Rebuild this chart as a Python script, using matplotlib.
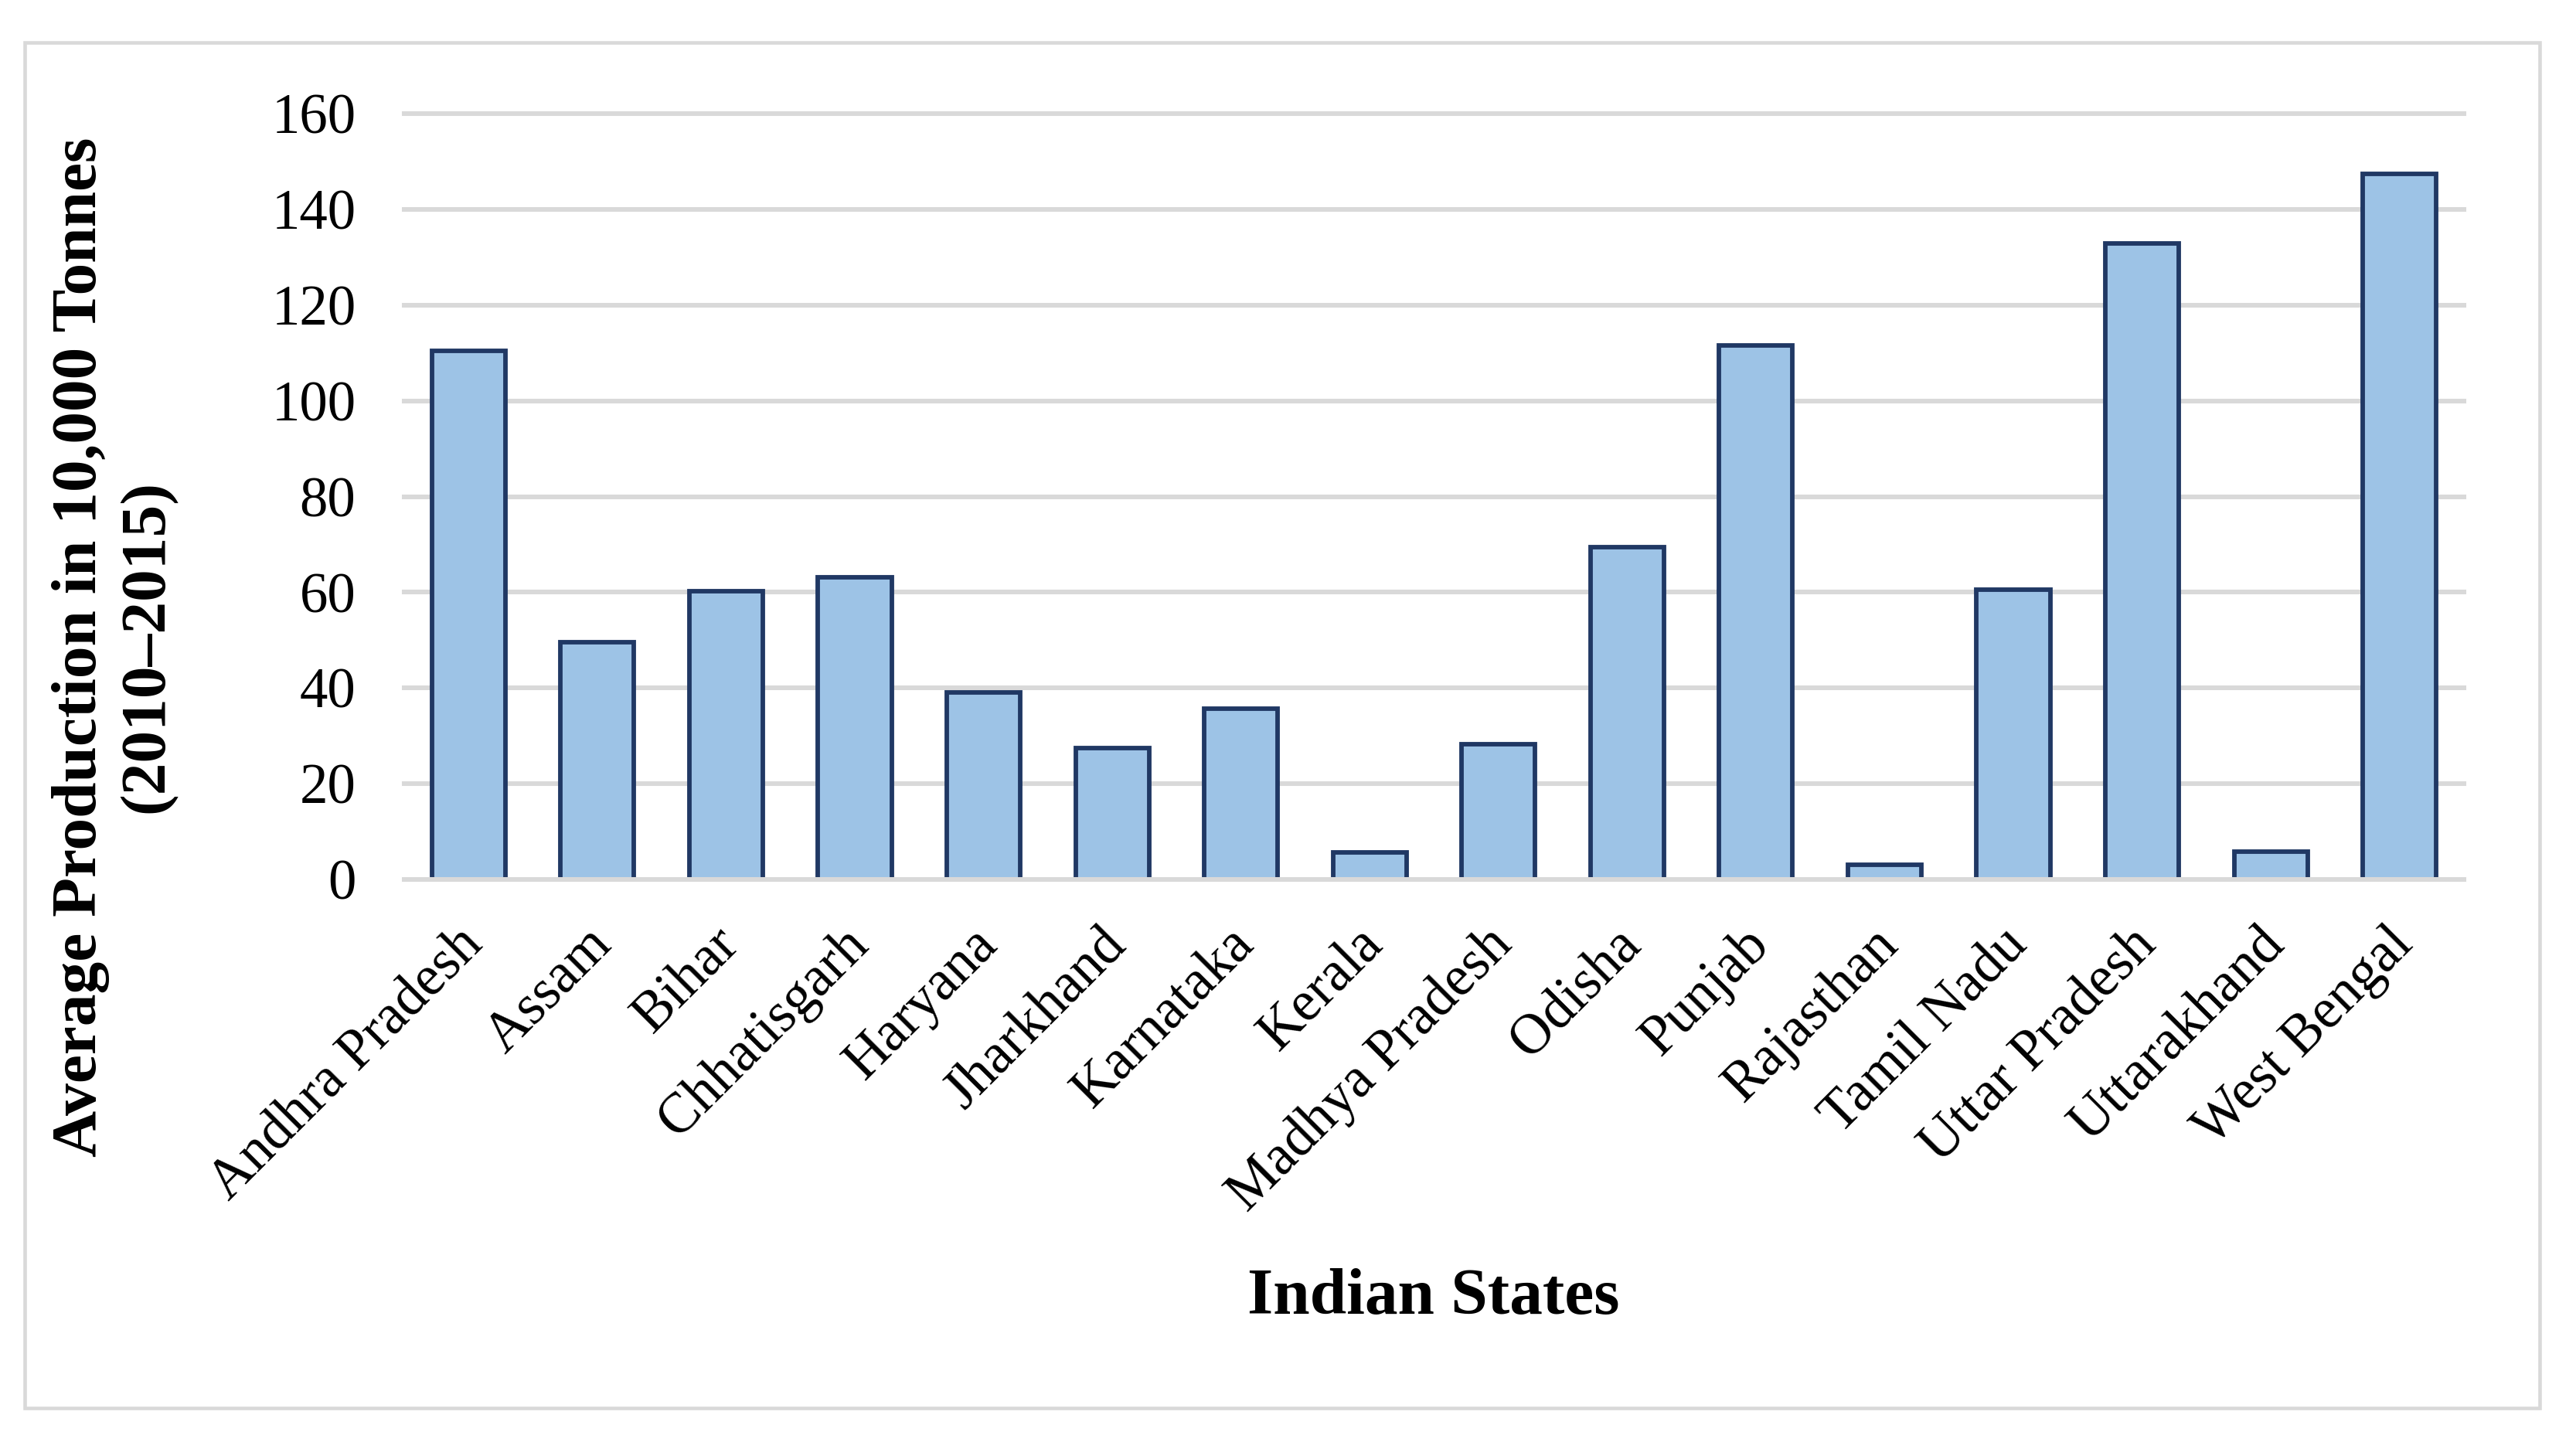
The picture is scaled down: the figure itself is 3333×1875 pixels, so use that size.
import matplotlib
matplotlib.use("Agg")
import matplotlib.pyplot as plt
import matplotlib.transforms as mtransforms
from matplotlib.patches import Rectangle

states = [
    "Andhra Pradesh", "Assam", "Bihar", "Chhatisgarh", "Haryana",
    "Jharkhand", "Karnataka", "Kerala", "Madhya Pradesh", "Odisha",
    "Punjab", "Rajasthan", "Tamil Nadu", "Uttar Pradesh", "Uttarakhand",
    "West Bengal",
]
production = [
    110.4, 49.5, 60.2, 63.2, 39.1,
    27.5, 35.7, 5.6, 28.2, 69.5,
    111.6, 3.0, 60.6, 132.9, 5.8,
    147.4,
]
yticks = [0, 20, 40, 60, 80, 100, 120, 140, 160]

plt.rcParams["font.family"] = ["Liberation Serif", "DejaVu Serif"]

W, H = 3333, 1875
fig = plt.figure(figsize=(W / 300, H / 300), dpi=300)

# plot area in pixels
left, right, top, bottom = 523, 3188, 147, 1138
ax = fig.add_axes([left / W, 1 - bottom / H, (right - left) / W, (bottom - top) / H])

x = range(len(states))
ax.bar(x, production, width=0.571, color="#9dc3e6", edgecolor="#203864",
       linewidth=1.4, zorder=2)

ax.set_xlim(-0.5, len(states) - 0.5)
ax.set_ylim(0, 160)
ax.set_yticks(yticks)
ax.set_yticklabels([str(t) for t in yticks], fontsize=17.5)
ax.tick_params(axis="y", length=0, pad=15)

ax.set_xticks(list(x))
ax.set_xticklabels(states, fontsize=17.5, rotation=45, ha="right", va="top",
                   rotation_mode="anchor")
ax.tick_params(axis="x", length=0, pad=12)
shift = mtransforms.ScaledTranslation(-4 / 72, 0, fig.dpi_scale_trans)
for lbl in ax.get_xticklabels():
    lbl.set_transform(lbl.get_transform() + shift)

for sp in ax.spines.values():
    sp.set_visible(False)

# gridlines
for t in yticks:
    ax.axhline(t, color="#d9d9d9", linewidth=1.45, zorder=3 if t == 0 else 1,
               clip_on=False)

fig.text(148 / W, 1 - 837 / H,
         "Average Production in 10,000 Tonnes\n(2010\u20132015)",
         rotation=90, ha="center", va="center", multialignment="center",
         fontsize=20, fontweight="bold", linespacing=1.2)
fig.text(1855 / W, 1 - 1700 / H, "Indian States", ha="center", va="baseline",
         fontsize=20.5, fontweight="bold")

# light outer frame
frame = Rectangle((32 / W, 1 - 1822 / H), (3286 - 32) / W, (1822 - 55) / H,
                  transform=fig.transFigure, fill=False, edgecolor="#d9d9d9",
                  linewidth=1.1)
fig.patches.append(frame)

fig.savefig("out.png", dpi=300)
